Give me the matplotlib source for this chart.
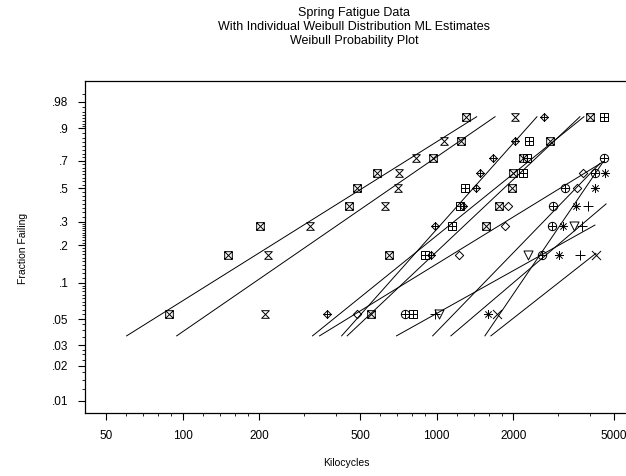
import numpy as np
import matplotlib
matplotlib.use('Agg')
import matplotlib.pyplot as plt
from matplotlib.path import Path

plt.rcParams['font.family'] = ['Liberation Sans', 'DejaVu Sans']

# plotting positions, 9 springs per test condition
pp = (np.arange(1, 10) - 0.5) / 9

# failure times (kilocycles) per group, sorted
sqx_a = [88, 150, 202, 453, 487, 584, 965, 1243, 1301]
hglass = [211, 217, 317, 626, 706, 711, 829, 1068, 2034]
dplus = [369, 947, 985, 1273, 1428, 1481, 1671, 2034, 2646]
sqplus = [809, 900, 1146, 1235, 1292, 2192, 2261, 2315, 4557]
sqx_b = [550, 649, 1564, 1759, 1974, 2003, 2181, 2793, 4013]
diam = [487, 1227, 1857, 1904, 3558, 3777]
cplus = [750, 2605, 2837, 2878, 3201, 4201, 4557]
aster = [1597, 3039, 3150, 3535, 4201, 4598]
tri = [1021, 2294, 3473]
plus = [985, 3667, 3724, 3954]
cross = [1723, 4239]

# individual Weibull ML estimates (eta, beta) and upper end of the drawn line
eta = [663, 840, 1612, 2086, 2191, 4000, 4298, 6660, 10250, 4142, 11080]
beta = [1.377, 1.514, 2.468, 1.776, 2.071, 1.35, 3.237, 1.87, 1.228, 2.267, 1.727]
p_hi = [0.945, 0.945, 0.945, 0.945, 0.945, 0.694, 0.694, 0.399, 0.284, 0.681, 0.173]
p_lo = 0.036

yticks = [.01, .02, .03, .05, .1, .2, .3, .5, .7, .9, .98]
ylabels = ['.01', '.02', '.03', '.05', '.1', '.2', '.3', '.5', '.7', '.9', '.98']
xticks = [50, 100, 200, 500, 1000, 2000, 5000]

M, L, C = Path.MOVETO, Path.LINETO, Path.CLOSEPOLY
sq = Path([(-1, -1), (1, -1), (1, 1), (-1, 1), (-1, -1)], [M, L, L, L, C])
xx = Path([(-1, -1), (1, 1), (-1, 1), (1, -1)], [M, L, M, L])
pl = Path([(-1, 0), (1, 0), (0, -1), (0, 1)], [M, L, M, L])
dm = Path([(0, -1), (1, 0), (0, 1), (-1, 0), (0, -1)], [M, L, L, L, C])
hg = Path([(-1, 1), (1, 1), (-1, -1), (1, -1), (-1, 1)], [M, L, L, L, C])
ci = Path.unit_circle()
st = Path([(-1, 0), (1, 0), (0, -1), (0, 1), (-.7, -.7), (.7, .7), (-.7, .7), (.7, -.7)],
          [M, L, M, L, M, L, M, L])
tr = Path([(-1, 1), (1, 1), (0, -1), (-1, 1)], [M, L, L, C])

mk = [Path.make_compound_path(sq, xx), hg, Path.make_compound_path(dm, pl),
      Path.make_compound_path(sq, pl), Path.make_compound_path(sq, xx), dm,
      Path.make_compound_path(ci, pl), st, tr, pl, xx]
ms = [5.5, 5.5, 5.5, 5.5, 5.5, 6, 6, 6.5, 6.5, 6.5, 6.5]
groups = [sqx_a, hglass, dplus, sqplus, sqx_b, diam, cplus, aster, tri, plus, cross]


def fwd(p):
    p = np.clip(p, 1e-9, 1 - 1e-12)
    return np.log(-np.log(1 - p))


def inv(u):
    return 1 - np.exp(-np.exp(u))


fig = plt.figure(figsize=(6.26, 4.76), dpi=100)
ax = fig.add_axes([85 / 626, 63 / 476, 543 / 626, 332 / 476])
ax.set_xscale('log')
ax.set_yscale('function', functions=(fwd, inv))

for i, g in enumerate(groups):
    ax.plot(g, pp[:len(g)], ls='none', marker=mk[i], ms=ms[i], mfc='none',
            mec='black', mew=0.7)
    p = np.linspace(p_lo, p_hi[i], 60)
    t = eta[i] * (-np.log(1 - p)) ** (1 / beta[i])
    ax.plot(t, p, color='black', lw=0.7)

ax.set_xlim(41.2, 5665)
ax.set_ylim(0.00784, 0.9973)

ax.set_xticks(xticks)
ax.set_xticklabels([str(v) for v in xticks])
xminor = [60, 70, 80, 90, 120, 140, 160, 180, 300, 400, 600, 700, 800, 900,
          1200, 1400, 1600, 1800, 3000, 4000]
ax.set_xticks(xminor, minor=True)
ax.set_xticklabels([], minor=True)

ax.set_yticks(yticks)
ax.set_yticklabels(ylabels)
yminor = list(np.arange(0.0125, 0.03, 0.0025)) + list(np.arange(0.035, 0.1, 0.005)) + \
    list(np.arange(0.11, 0.3, 0.01)) + list(np.arange(0.325, 0.9, 0.025)) + \
    list(np.arange(0.91, 0.995, 0.01))
yminor = [v for v in yminor if min(abs(v - t) for t in yticks) > 1e-6]
ax.set_yticks(yminor, minor=True)
ax.set_yticklabels([], minor=True)

ax.tick_params(which='major', direction='out', length=5, width=0.8, labelsize=8.5, pad=7)
ax.tick_params(which='minor', direction='out', length=2.5, width=0.6)
ax.tick_params(top=False, right=False)
ax.spines['right'].set_visible(False)
for s in ['left', 'bottom', 'top']:
    ax.spines[s].set_linewidth(0.9)

fig.text(354 / 626, 1 - 13 / 476, 'Spring Fatigue Data', ha='center', va='center', fontsize=9)
fig.text(354 / 626, 1 - 27 / 476, 'With Individual Weibull Distribution ML Estimates',
         ha='center', va='center', fontsize=9)
fig.text(354 / 626, 1 - 41 / 476, 'Weibull Probability Plot', ha='center', va='center', fontsize=9)
fig.text(346 / 626, 1 - 463 / 476, 'Kilocycles', ha='center', va='center', fontsize=7.5)
fig.text(23 / 626, 1 - 248 / 476, 'Fraction Failing', ha='center', va='center',
         rotation=90, fontsize=7.5)

fig.savefig('out.png', dpi=100)
